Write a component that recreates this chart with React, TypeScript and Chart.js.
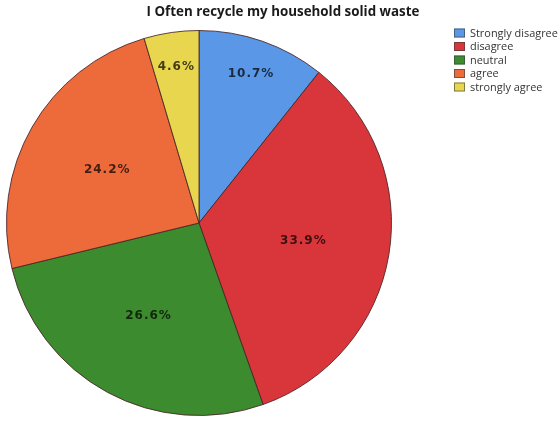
import React, { useEffect, useRef } from "react";
import { Chart, registerables } from "chart.js";

Chart.register(...registerables);

const titleText = "I Often recycle my household solid waste";
const categories = ["Strongly disagree", "disagree", "neutral", "agree", "strongly agree"];
const percentages = [10.7, 33.9, 26.6, 24.2, 4.6];
const sliceColors = ["#5a97e6", "#d9363c", "#3d8b2f", "#ed6a3a", "#e8d64e"];

const decorPlugin = {
  id: "decor",
  afterDatasetsDraw(chart: any) {
    const ctx = chart.ctx as CanvasRenderingContext2D;
    const meta = chart.getDatasetMeta(0);
    const total = percentages.reduce((a, b) => a + b, 0);
    ctx.save();
    // slice labels
    ctx.font = "bold 12px 'DejaVu Sans'";
    (ctx as any).letterSpacing = "1px";
    ctx.textAlign = "center";
    ctx.textBaseline = "middle";
    ctx.fillStyle = "rgba(0,0,0,0.72)";
    meta.data.forEach((arc: any, i: number) => {
      const p = arc.getProps(["x", "y", "startAngle", "endAngle", "outerRadius"], true);
      const mid = (p.startAngle + p.endAngle) / 2;
      const frac = percentages[i] / total;
      const f = frac < 0.12 ? 0.82 : 0.55;
      const x = p.x + Math.cos(mid) * p.outerRadius * f;
      const y = p.y + Math.sin(mid) * p.outerRadius * f;
      ctx.fillText(percentages[i].toFixed(1) + "%", x, y);
    });
    (ctx as any).letterSpacing = "0px";
    // title
    let ts = 13;
    ctx.font = `bold ${ts}px 'Open Sans'`;
    const tw = ctx.measureText(titleText).width;
    ts = ts * 273 / tw;
    ctx.font = `bold ${ts}px 'Open Sans'`;
    ctx.fillStyle = "#1a1a1a";
    ctx.textAlign = "center";
    ctx.fillText(titleText, 283, 12);
    // legend
    let ls = 10;
    ctx.font = `${ls}px 'Open Sans'`;
    const lw = ctx.measureText(categories[0]).width;
    ls = ls * 88 / lw;
    ctx.font = `${ls}px 'Open Sans'`;
    ctx.textAlign = "left";
    categories.forEach((c, i) => {
      const cy = 33 + i * 13.5;
      ctx.fillStyle = sliceColors[i];
      ctx.fillRect(454, cy - 4.5, 11, 9);
      ctx.strokeStyle = "rgba(60,60,60,0.6)";
      ctx.lineWidth = 1;
      ctx.strokeRect(454.5, cy - 4, 10, 8);
      ctx.fillStyle = "#333";
      ctx.fillText(c, 470, cy + 0.5);
    });
    ctx.restore();
  },
};

export default function App() {
  const ref = useRef<HTMLCanvasElement>(null);
  useEffect(() => {
    if (!ref.current) return;
    const chart = new Chart(ref.current, {
      type: "pie",
      data: {
        labels: categories,
        datasets: [
          {
            data: percentages,
            backgroundColor: sliceColors,
            borderColor: "rgba(70,35,35,0.85)",
            borderWidth: 1,
          },
        ],
      },
      options: {
        responsive: false,
        animation: false,
        layout: { padding: { left: 6, right: 167, top: 30, bottom: 22 } },
        plugins: {
          legend: { display: false },
          title: { display: false },
          tooltip: { enabled: false },
        },
      },
      plugins: [decorPlugin],
    } as any);
    return () => chart.destroy();
  }, []);
  return (
    <div style={{ position: "absolute", left: 0, top: 0, width: 559, height: 438, background: "#fff" }}>
      <canvas ref={ref} width={559} height={438} />
    </div>
  );
}
